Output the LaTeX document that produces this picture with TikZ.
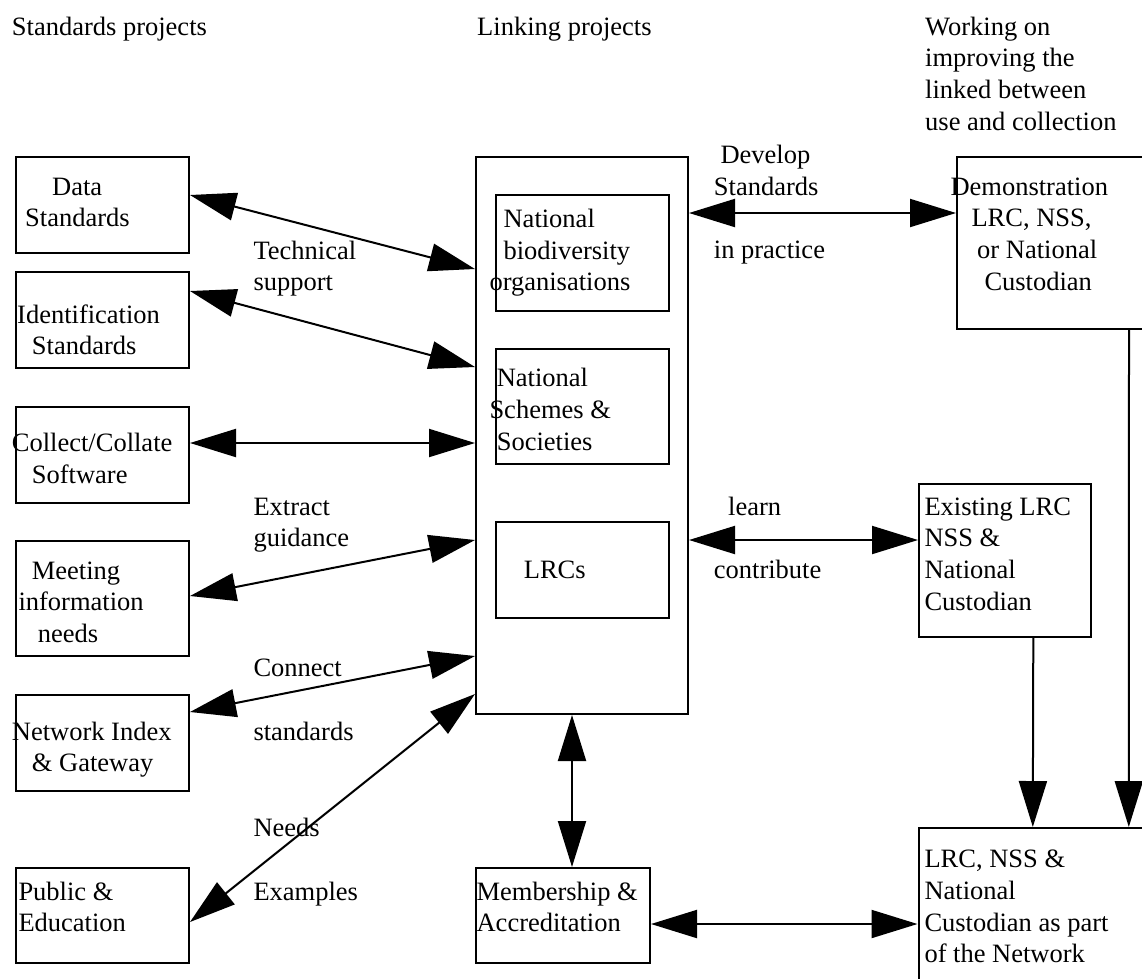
\documentclass[tikz,border=0pt]{standalone}
\usepackage{fontspec}
\setmainfont{Liberation Serif}
\usetikzlibrary{arrows.meta}
\newcommand\myL[1]{\begin{tabular}[t]{@{}l@{}}#1\end{tabular}}
\begin{document}
\begin{tikzpicture}[x=1pt,y=-1pt,
  every node/.style={font=\fontsize{26.5}{31.7}\selectfont},
  box/.style={draw, line width=2pt, inner sep=0pt},
  txt/.style={inner sep=0pt, anchor=base west},
  tip/.tip={Triangle[length=46pt,width=28pt]},
  biarrow/.style={line width=2pt, tip-tip},
  onearrow/.style={line width=2pt, -tip}]
\useasboundingbox (0,0) rectangle (1142,978);
\clip (0,0) rectangle (1142,978);

% boxes
\node[box, minimum width=173pt, minimum height=96pt]  (data)    at (102.5,205)   {};
\node[box, minimum width=173pt, minimum height=96pt]  (ident)   at (102.5,320)   {};
\node[box, minimum width=173pt, minimum height=96pt]  (collect) at (102.5,455)   {};
\node[box, minimum width=173pt, minimum height=115pt] (meet)    at (102.5,598.5) {};
\node[box, minimum width=173pt, minimum height=96pt]  (netw)    at (102.5,743)   {};
\node[box, minimum width=173pt, minimum height=95pt]  (public)  at (102.5,915.5) {};

\node[box, minimum width=212pt, minimum height=557pt] (central) at (582,435.5) {};
\node[box, minimum width=173pt, minimum height=116pt] (nbo)     at (582.5,253)   {};
\node[box, minimum width=173pt, minimum height=115pt] (nss)     at (582.5,406.5) {};
\node[box, minimum width=173pt, minimum height=96pt]  (lrcs)    at (582.5,570)   {};
\node[box, minimum width=174pt, minimum height=95pt]  (member)  at (563,915.5)   {};

\node[box, minimum width=203pt, minimum height=172pt] (demo)    at (1058.5,243)  {};
\node[box, minimum width=172pt, minimum height=153pt] (exist)   at (1005,560.5)  {};
\node[box, minimum width=241pt, minimum height=172pt] (lrcnet)  at (1039,914)    {};

% headers
\node[txt] (hstd)  at (11.7,35) {Standards projects};
\node[txt] (hlink) at (477,35)  {Linking projects};
\node[txt] (hwork) at (925,35)  {\myL{Working on\\improving the\\linked between\\use and collection}};

% box texts
\node[txt] (tdata)    at (25,195)     {\myL{\hspace*{27pt}Data\\Standards}};
\node[txt] (tident)   at (17,323)     {\myL{Identification\\\hspace*{14.7pt}Standards}};
\node[txt] (tcollect) at (11.7,451.7) {\myL{Collect/Collate\\\hspace*{20pt}Software}};
\node[txt] (tmeet)    at (18.3,579)   {\myL{\hspace*{13.4pt}Meeting\\information\\\hspace*{19.4pt}needs}};
\node[txt] (tnetw)    at (11.7,740)   {\myL{Network Index\\\hspace*{20pt}\& Gateway}};
\node[txt] (tpublic)  at (18.3,900)   {\myL{Public \&\\Education}};

\node[txt] (tnbo)    at (489.3,227.3) {\myL{\hspace*{14.1pt}National\\\hspace*{14.1pt}biodiversity\\organisations}};
\node[txt] (tnss)    at (489.3,386.7) {\myL{\hspace*{7.3pt}National\\Schemes \&\\\hspace*{7.3pt}Societies}};
\node[txt] (tlrcs)   at (523.6,578.3) {LRCs};
\node[txt] (tmember) at (476.4,900)   {\myL{Membership \&\\Accreditation}};

\node[txt] (tdemo)   at (950.3,195)   {\myL{Demonstration\\\hspace*{21pt}LRC, NSS,\\\hspace*{26.7pt}or National\\\hspace*{34pt}Custodian}};
\node[txt] (texist)  at (924.3,515)   {\myL{Existing LRC\\NSS \&\\National\\Custodian}};
\node[txt] (tlrcnet) at (924.3,867.7) {\myL{LRC, NSS \&\\National\\Custodian as part\\of the Network}};

% connector labels
\node[txt] (ltech)    at (253.3,259)   {\myL{Technical\\support}};
\node[txt] (lextract) at (253.3,515)   {\myL{Extract\\guidance}};
\node[txt] (lconnect) at (253.3,676)   {Connect};
\node[txt] (lstand)   at (253.3,740)   {standards};
\node[txt] (lneeds)   at (253.3,836)   {Needs};
\node[txt] (lexamp)   at (253.3,900)   {Examples};
\node[txt] (ldevelop) at (713.7,163.3) {\myL{\hspace*{6.6pt}Develop\\Standards}};
\node[txt] (lpract)   at (713.7,258)   {in practice};
\node[txt] (llearn)   at (728,515)     {learn};
\node[txt] (lcontrib) at (713.7,578)   {contribute};

% connectors
\draw[biarrow] ([yshift=10pt]data.east) -- ([yshift=-113pt]central.north west);
\draw[biarrow] ([yshift=-20pt]ident.north east) -- ([yshift=-211pt]central.north west);
\draw[biarrow] ([yshift=-37pt]collect.north east) -- ([yshift=-287pt]central.north west);
\draw[biarrow] ([yshift=-56pt]meet.north east) -- ([yshift=-384pt]central.north west);
\draw[biarrow] ([yshift=-18pt]netw.north east) -- ([yshift=-500pt]central.north west);
\draw[biarrow] ([yshift=-55pt]public.north east) -- ([yshift=-538pt]central.north west);

\draw[biarrow] ([yshift=-57pt]central.north east) -- ([yshift=-57pt]demo.north west);
\draw[biarrow] ([yshift=-384pt]central.north east) -- ([yshift=-57pt]exist.north west);
\draw[biarrow] ([xshift=97pt]central.south west) -- ([xshift=97pt]member.north west);
\draw[biarrow] ([yshift=-57pt]member.north east) -- ([yshift=-97pt]lrcnet.north west);

\draw[onearrow] ([xshift=115.3pt]exist.south west) -- ([xshift=115.3pt]lrcnet.north west);
\draw[onearrow] ([xshift=173pt]demo.south west) -- ([xshift=211.3pt]lrcnet.north west);
\end{tikzpicture}
\end{document}
